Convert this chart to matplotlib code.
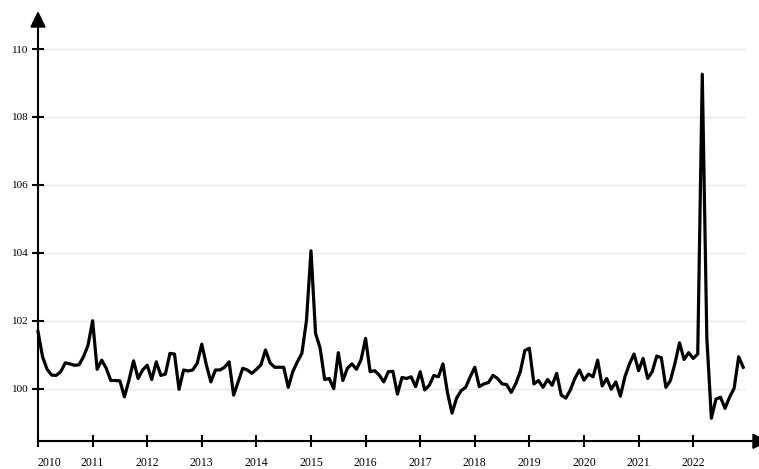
import matplotlib
matplotlib.use('Agg')
import matplotlib.pyplot as plt
import numpy as np
from matplotlib.patches import Polygon

plt.rcParams['font.family'] = ['Liberation Serif', 'DejaVu Serif']

# monthly series, Jan 2010 .. Dec 2022
values = [
    101.68, 100.94, 100.57, 100.40, 100.39, 100.50, 100.76, 100.73, 100.69, 100.70, 100.94, 101.28,
    102.00, 100.57, 100.84, 100.60, 100.24, 100.24, 100.23, 99.76, 100.25, 100.82, 100.30, 100.55,
    100.69, 100.27, 100.79, 100.39, 100.43, 101.04, 101.02, 99.98, 100.55, 100.52, 100.55, 100.75,
    101.31, 100.70, 100.20, 100.55, 100.55, 100.63, 100.79, 99.81, 100.20, 100.60, 100.55, 100.45,
    100.57, 100.70, 101.14, 100.76, 100.63, 100.63, 100.63, 100.04, 100.50, 100.79, 101.04, 102.00,
    104.06, 101.63, 101.20, 100.27, 100.30, 100.00, 101.06, 100.24, 100.60, 100.73, 100.57, 100.85,
    101.48, 100.50, 100.53, 100.40, 100.20, 100.50, 100.51, 99.84, 100.33, 100.30, 100.35, 100.06,
    100.50, 99.96, 100.10, 100.39, 100.35, 100.73, 99.88, 99.28, 99.72, 99.94, 100.04, 100.35,
    100.63, 100.06, 100.14, 100.18, 100.39, 100.30, 100.14, 100.12, 99.89, 100.14, 100.50, 101.12,
    101.19, 100.14, 100.24, 100.04, 100.27, 100.10, 100.45, 99.81, 99.72, 99.96, 100.30, 100.55,
    100.25, 100.43, 100.35, 100.84, 100.08, 100.30, 99.98, 100.20, 99.78, 100.35, 100.73, 101.02,
    100.53, 100.89, 100.30, 100.50, 100.96, 100.91, 100.04, 100.24, 100.75, 101.35, 100.86, 101.06,
    100.89, 101.02, 109.26, 101.50, 99.13, 99.69, 99.75, 99.42, 99.75, 100.01, 100.94, 100.63,
]
years = ['2010', '2011', '2012', '2013', '2014', '2015', '2016',
         '2017', '2018', '2019', '2020', '2021', '2022']
yticks = [100, 102, 104, 106, 108, 110]

W, H = 759, 469
fig = plt.figure(figsize=(W / 100, H / 100), dpi=100)
fig.patch.set_facecolor('white')

x0, x1 = 38, 745.5
yb, yt = 441.3, 27
ax = fig.add_axes([x0 / W, 1 - yb / H, (x1 - x0) / W, (yb - yt) / H])
months = np.arange(len(values))
ax.plot(months, values, color='black', lw=2.3, clip_on=False, zorder=3)
ax.set_xlim(0, 155.5)
ax.set_ylim(98.45, 110.65)
ax.set_yticks(yticks)
ax.set_yticklabels([str(v) for v in yticks])
ax.set_xticks(np.arange(0, 12 * len(years), 12))
ax.set_xticklabels(years)
ax.grid(axis='y', color='#e8e8e8', lw=1.0)
ax.grid(axis='x', visible=False)
for s in ax.spines.values():
    s.set_visible(False)
ax.tick_params(axis='both', direction='inout', length=8.6, width=1.5, color='black')
ax.tick_params(axis='x', pad=7, labelsize=8.5)
ax.tick_params(axis='y', pad=2.7, labelsize=8)
lbls = ax.get_xticklabels()
lbls[0].set_horizontalalignment('left')

ov = fig.add_axes([0, 0, 1, 1])
ov.set_xlim(0, W)
ov.set_ylim(H, 0)
ov.axis('off')
ov.plot([x0, x0], [yb + 0.7, 26], color='black', lw=1.5, solid_capstyle='butt')
ov.plot([x0 - 0.7, 753], [yb, yb], color='black', lw=1.5, solid_capstyle='butt')
ov.add_patch(Polygon([(x0, 12.5), (x0 - 7, 27), (x0 + 7, 27)], closed=True, color='black'))
ov.add_patch(Polygon([(753, yb - 7), (753, yb + 7), (767, yb)], closed=True, color='black', clip_on=False))

fig.savefig('out.png', dpi=100, facecolor='white')
